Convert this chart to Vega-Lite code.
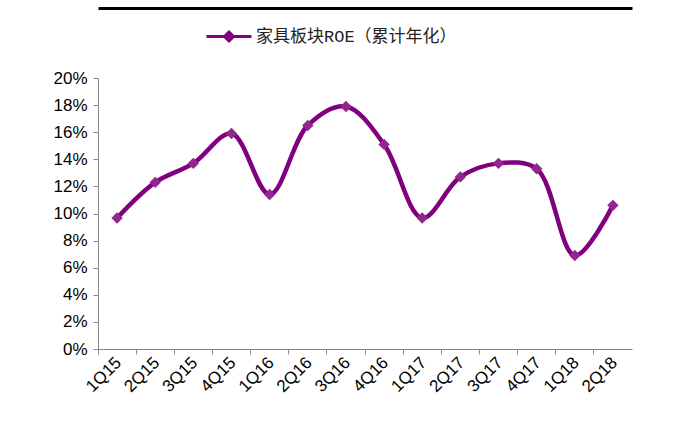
{
  "$schema": "https://vega.github.io/schema/vega-lite/v6.json",
  "width": 534,
  "height": 271,
  "autosize": "none",
  "padding": {"left": 98, "top": 78, "right": 46, "bottom": 72},
  "background": "white",
  "config": {"view": {"stroke": null}, "font": "Liberation Sans"},
  "data": {"values": [
    {"q": "1Q15", "roe": 0.0967, "s": "家具板块ROE（累计年化）"},
    {"q": "2Q15", "roe": 0.123, "s": "家具板块ROE（累计年化）"},
    {"q": "3Q15", "roe": 0.137, "s": "家具板块ROE（累计年化）"},
    {"q": "4Q15", "roe": 0.159, "s": "家具板块ROE（累计年化）"},
    {"q": "1Q16", "roe": 0.114, "s": "家具板块ROE（累计年化）"},
    {"q": "2Q16", "roe": 0.165, "s": "家具板块ROE（累计年化）"},
    {"q": "3Q16", "roe": 0.179, "s": "家具板块ROE（累计年化）"},
    {"q": "4Q16", "roe": 0.151, "s": "家具板块ROE（累计年化）"},
    {"q": "1Q17", "roe": 0.0967, "s": "家具板块ROE（累计年化）"},
    {"q": "2Q17", "roe": 0.127, "s": "家具板块ROE（累计年化）"},
    {"q": "3Q17", "roe": 0.137, "s": "家具板块ROE（累计年化）"},
    {"q": "4Q17", "roe": 0.133, "s": "家具板块ROE（累计年化）"},
    {"q": "1Q18", "roe": 0.069, "s": "家具板块ROE（累计年化）"},
    {"q": "2Q18", "roe": 0.106, "s": "家具板块ROE（累计年化）"}
  ]},
  "encoding": {
    "y": {
      "field": "roe", "type": "quantitative",
      "scale": {"domain": [0, 0.2], "nice": false},
      "axis": {
        "title": null, "format": ".0%", "values": [0,0.02,0.04,0.06,0.08,0.1,0.12,0.14,0.16,0.18,0.2],
        "grid": false, "domainColor": "#888888", "tickColor": "#888888", "tickSize": 5,
        "labelFontSize": 17, "labelColor": "#000000", "labelPadding": 6, "labelFont": "Liberation Sans"
      }
    }
  },
  "layer": [
    {
      "mark": {"type": "line", "interpolate": "catmull-rom", "strokeWidth": 4.5},
      "encoding": {
        "x": {
          "field": "q", "type": "nominal", "sort": null,
          "scale": {"type": "band", "paddingInner": 0, "paddingOuter": 0},
          "axis": {
            "title": null, "labelAngle": -45, "labelFontSize": 17, "labelColor": "#000000",
            "ticks": false, "domain": false, "grid": false, "labelPadding": 5, "labelOffset": -4, "labelFont": "Liberation Sans"
          }
        },
        "color": {
          "field": "s", "type": "nominal",
          "scale": {"range": ["#800080"]},
          "legend": {
            "title": null, "orient": "none", "legendX": 107, "legendY": -52,
            "symbolType": "M-1,0H4M1.5,-0.5L2,0L1.5,0.5L1,0Z",
            "symbolSize": 324, "symbolStrokeWidth": 3, "symbolFillColor": "#92278F", "symbolStrokeColor": "#800080",
            "labelFontSize": 17, "labelFont": "Liberation Mono, Noto Sans CJK SC", "labelColor": "#222222", "labelOffset": 30, "labelLimit": 500
          }
        }
      }
    },
    {
      "mark": {"type": "point", "shape": "diamond", "filled": true, "size": 130, "opacity": 1, "color": "#92278F"},
      "encoding": {
        "x": {
          "field": "q", "type": "nominal", "sort": null,
          "scale": {"type": "band", "paddingInner": 0, "paddingOuter": 0},
          "axis": {
            "title": null, "labels": false, "bandPosition": 0, "grid": false, "orient": "bottom",
            "domainColor": "#888888", "tickColor": "#888888", "tickSize": 5
          }
        }
      }
    },
    {
      "mark": {"type": "point", "opacity": 0},
      "encoding": {
        "x": {
          "field": "q", "type": "nominal", "sort": null,
          "scale": {"type": "band", "paddingInner": 0, "paddingOuter": 0},
          "axis": {
            "title": null, "labels": false, "ticks": false, "grid": false, "orient": "top", "offset": 70,
            "domainColor": "#000000", "domainWidth": 3
          }
        }
      }
    }
  ],
  "resolve": {"axis": {"x": "independent"}}
}
